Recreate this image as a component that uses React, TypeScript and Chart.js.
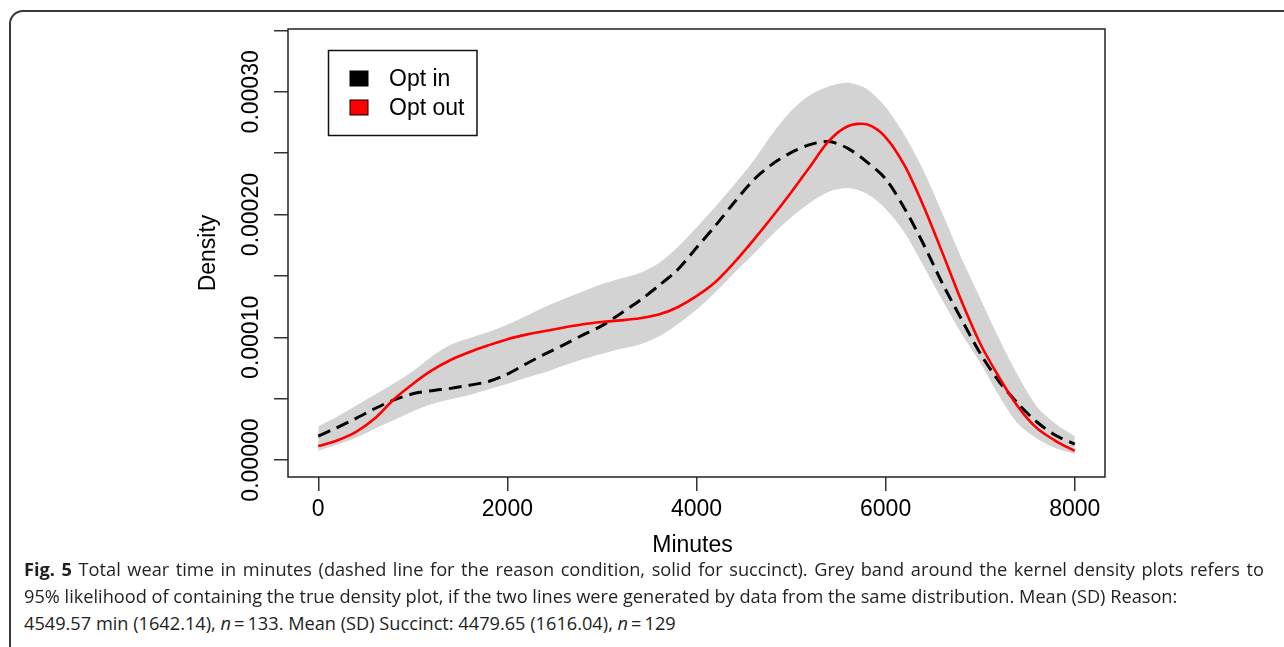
import React, { useEffect, useRef } from "react";
import { Chart, registerables } from "chart.js";

Chart.register(...registerables);

const MINUTES = [
  0, 200, 400, 600, 800, 1000, 1200, 1400, 1600, 1800, 2000, 2200, 2400, 2600,
  2800, 3000, 3200, 3400, 3600, 3800, 4000, 4200, 4400, 4600, 4800, 5000, 5200,
  5400, 5600, 5800, 6000, 6200, 6400, 6600, 6800, 7000, 7200, 7400, 7600, 7800,
  8000,
];

const OPT_IN = [
  1.96e-5, 2.65e-5, 3.4e-5, 4.2e-5, 4.9e-5, 5.4e-5, 5.65e-5, 5.84e-5, 6.1e-5,
  6.4e-5, 7.0e-5, 7.85e-5, 8.65e-5, 9.4e-5, 10.2e-5, 10.95e-5, 11.95e-5,
  13.0e-5, 14.2e-5, 15.5e-5, 17.3e-5, 19.1e-5, 21.0e-5, 22.8e-5, 24.1e-5,
  25.05e-5, 25.7e-5, 25.95e-5, 25.4e-5, 24.3e-5, 22.9e-5, 20.5e-5, 17.6e-5,
  14.4e-5, 11.5e-5, 8.7e-5, 6.4e-5, 4.6e-5, 3.1e-5, 2.0e-5, 1.3e-5,
];

const OPT_OUT = [
  1.14e-5, 1.6e-5, 2.3e-5, 3.4e-5, 4.95e-5, 6.2e-5, 7.3e-5, 8.15e-5, 8.8e-5,
  9.35e-5, 9.85e-5, 10.22e-5, 10.52e-5, 10.8e-5, 11.07e-5, 11.25e-5, 11.38e-5,
  11.55e-5, 11.85e-5, 12.45e-5, 13.35e-5, 14.5e-5, 16.1e-5, 17.9e-5, 19.8e-5,
  21.8e-5, 23.9e-5, 26.0e-5, 27.2e-5, 27.35e-5, 26.3e-5, 24.0e-5, 20.7e-5,
  16.9e-5, 13.0e-5, 9.5e-5, 6.75e-5, 4.35e-5, 2.6e-5, 1.55e-5, 0.75e-5,
];

const BAND_UPPER = [
  2.7e-5, 3.5e-5, 4.4e-5, 5.3e-5, 6.2e-5, 7.2e-5, 8.4e-5, 9.35e-5, 9.9e-5,
  10.4e-5, 11.0e-5, 11.7e-5, 12.45e-5, 13.1e-5, 13.7e-5, 14.3e-5, 14.75e-5,
  15.2e-5, 16.0e-5, 17.3e-5, 18.9e-5, 20.6e-5, 22.4e-5, 24.3e-5, 26.5e-5,
  28.4e-5, 29.7e-5, 30.4e-5, 30.7e-5, 30.2e-5, 28.7e-5, 26.4e-5, 23.5e-5,
  20.0e-5, 16.4e-5, 13.1e-5, 9.8e-5, 6.8e-5, 4.3e-5, 2.9e-5, 1.9e-5,
];

const BAND_LOWER = [
  0.81e-5, 1.3e-5, 1.85e-5, 2.6e-5, 3.3e-5, 4.0e-5, 4.6e-5, 5.0e-5, 5.35e-5,
  5.8e-5, 6.25e-5, 6.75e-5, 7.2e-5, 7.75e-5, 8.25e-5, 8.7e-5, 9.1e-5, 9.45e-5,
  10.1e-5, 11.1e-5, 12.3e-5, 13.7e-5, 15.3e-5, 16.8e-5, 18.4e-5, 19.8e-5,
  21.0e-5, 21.9e-5, 22.2e-5, 21.75e-5, 20.5e-5, 18.6e-5, 15.9e-5, 13.1e-5,
  10.4e-5, 8.0e-5, 5.3e-5, 3.0e-5, 1.8e-5, 1.0e-5, 0.55e-5,
];

const X_TICKS = [0, 2000, 4000, 6000, 8000];
const Y_TICKS = [0, 0.00005, 0.0001, 0.00015, 0.0002, 0.00025, 0.0003, 0.00035];
const Y_TICK_LABELS = ["0.00000", "", "0.00010", "", "0.00020", "", "0.00030", ""];
const LEGEND_LABELS = ["Opt in", "Opt out"];
const LEGEND_COLORS = ["#000000", "#ff0000"];
const X_TITLE = "Minutes";
const Y_TITLE = "Density";

const FONT = "'Liberation Sans', Arial, Helvetica, sans-serif";
const CAPTION_FONT = "'Open Sans', 'Noto Sans', sans-serif";
const W = 1284;
const H = 560;

const rPlugin = {
  id: "rstyle",
  afterDraw(chart: any) {
    const { ctx, chartArea: a, scales } = chart;
    ctx.save();
    ctx.strokeStyle = "#222";
    ctx.lineWidth = 1.5;
    ctx.strokeRect(a.left, a.top, a.right - a.left, a.bottom - a.top);

    ctx.fillStyle = "#000";
    ctx.font = `23px ${FONT}`;
    const ys = scales.y;
    Y_TICKS.forEach((v, i) => {
      const lbl = Y_TICK_LABELS[i];
      if (!lbl) return;
      const py = ys.getPixelForValue(v);
      ctx.save();
      ctx.translate(a.left - 36, py);
      ctx.rotate(-Math.PI / 2);
      ctx.textAlign = "center";
      ctx.textBaseline = "middle";
      ctx.fillText(lbl, 0, 0);
      ctx.restore();
    });

    ctx.textAlign = "center";
    ctx.textBaseline = "alphabetic";
    ctx.fillText(X_TITLE, (a.left + a.right) / 2 - 4, 552);
    ctx.save();
    ctx.translate(a.left - 73, (a.top + a.bottom) / 2);
    ctx.rotate(-Math.PI / 2);
    ctx.fillText(Y_TITLE, 0, 0);
    ctx.restore();

    const lx = a.left + 40.5;
    const ly = a.top + 21.5;
    ctx.fillStyle = "#fff";
    ctx.fillRect(lx, ly, 148.5, 85);
    ctx.strokeStyle = "#111";
    ctx.lineWidth = 1.5;
    ctx.strokeRect(lx, ly, 148.5, 85);
    LEGEND_LABELS.forEach((lbl, i) => {
      const cy = ly + 28 + i * 29;
      ctx.fillStyle = LEGEND_COLORS[i];
      ctx.fillRect(lx + 21.5, cy - 7.5, 18, 15);
      ctx.strokeStyle = "#000";
      ctx.lineWidth = 1;
      ctx.strokeRect(lx + 21.5, cy - 7.5, 18, 15);
      ctx.fillStyle = "#000";
      ctx.textAlign = "left";
      ctx.textBaseline = "middle";
      ctx.fillText(lbl, lx + 60.5, cy + 1);
    });
    ctx.restore();
  },
};

const lineStyle: React.CSSProperties = {
  position: "absolute",
  left: 24,
  fontFamily: CAPTION_FONT,
  fontSize: 18.2,
  lineHeight: "27px",
  whiteSpace: "nowrap",
  color: "#231f20",
};

export default function App() {
  const ref = useRef<HTMLCanvasElement | null>(null);

  useEffect(() => {
    if (!ref.current) return;
    const pts = (arr: number[]) => MINUTES.map((m, i) => ({ x: m, y: arr[i] }));
    const chart = new Chart(ref.current, {
      type: "line",
      data: {
        datasets: [
          {
            label: "Opt out",
            data: pts(OPT_OUT),
            borderColor: "#ff0000",
            borderWidth: 2.6,
            pointRadius: 0,
            tension: 0.3,
            fill: false,
            order: 0,
          },
          {
            label: "Opt in",
            data: pts(OPT_IN),
            borderColor: "#000000",
            borderWidth: 3,
            borderDash: [13, 7],
            pointRadius: 0,
            tension: 0.3,
            fill: false,
            order: 1,
          },
          {
            label: "band upper",
            data: pts(BAND_UPPER),
            borderColor: "rgba(211,211,211,1)",
            borderWidth: 1,
            backgroundColor: "#d3d3d3",
            pointRadius: 0,
            tension: 0.3,
            fill: "+1",
            order: 2,
          },
          {
            label: "band lower",
            data: pts(BAND_LOWER),
            borderColor: "rgba(211,211,211,1)",
            borderWidth: 1,
            pointRadius: 0,
            tension: 0.3,
            fill: false,
            order: 3,
          },
        ],
      },
      options: {
        animation: false,
        responsive: false,
        maintainAspectRatio: false,
        devicePixelRatio: 1,
        layout: { padding: { left: 0, right: W - 1105, top: 29, bottom: 0 } },
        plugins: {
          legend: { display: false },
          tooltip: { enabled: false },
        },
        scales: {
          x: {
            type: "linear",
            min: -320,
            max: 8320,
            afterBuildTicks: (s: any) => {
              s.ticks = X_TICKS.map((v) => ({ value: v }));
            },
            afterFit: (s: any) => {
              s.height = H - 477;
            },
            ticks: {
              color: "#000",
              font: { family: FONT, size: 23 },
              padding: 5,
              maxRotation: 0,
              autoSkip: false,
              callback: (v: any) => String(v),
            },
            grid: {
              display: true,
              drawOnChartArea: false,
              drawTicks: true,
              tickLength: 14,
              color: "#333",
              lineWidth: 1.5,
            },
            border: { display: false },
          },
          y: {
            type: "linear",
            min: -0.0000138,
            max: 0.0003512,
            afterBuildTicks: (s: any) => {
              s.ticks = Y_TICKS.map((v) => ({ value: v }));
            },
            afterFit: (s: any) => {
              s.width = 288;
            },
            ticks: { display: false },
            grid: {
              display: true,
              drawOnChartArea: false,
              drawTicks: true,
              tickLength: 14,
              color: "#333",
              lineWidth: 1.5,
            },
            border: { display: false },
          },
        },
      },
      plugins: [rPlugin],
    } as any);
    return () => chart.destroy();
  }, []);

  return (
    <div
      style={{
        position: "fixed",
        left: 0,
        top: 0,
        width: W,
        height: 647,
        overflow: "hidden",
        background: "#fff",
      }}
    >
      <div
        style={{
          position: "absolute",
          left: 9,
          top: 10,
          width: 1320,
          height: 700,
          border: "2px solid #3a3a3a",
          borderTopLeftRadius: 14,
          boxSizing: "border-box",
        }}
      />
      <canvas
        ref={ref}
        width={W}
        height={H}
        style={{ position: "absolute", left: 0, top: 0, width: W, height: H }}
      />
      <div
        style={{
          ...lineStyle,
          top: 556,
          width: 1240,
          whiteSpace: "normal",
          textAlign: "justify",
          textAlignLast: "justify",
        }}
      >
        <b>Fig. 5</b> Total wear time in minutes (dashed line for the reason condition, solid for succinct). Grey band around the kernel density plots refers to
      </div>
      <div style={{ ...lineStyle, top: 583 }}>
        95% likelihood of containing the true density plot, if the two lines were generated by data from the same distribution. Mean (SD) Reason:
      </div>
      <div style={{ ...lineStyle, top: 610 }}>
        4549.57 min (1642.14), <i>n</i>&thinsp;=&thinsp;133. Mean (SD) Succinct: 4479.65 (1616.04), <i>n</i>&thinsp;=&thinsp;129
      </div>
    </div>
  );
}
